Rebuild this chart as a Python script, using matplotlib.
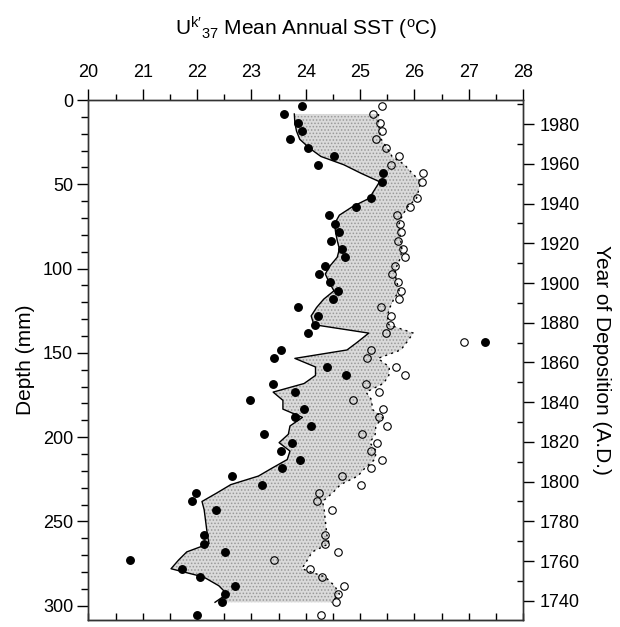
import matplotlib
matplotlib.use("Agg")
import matplotlib.pyplot as plt
from matplotlib.ticker import MultipleLocator, NullFormatter

plt.rcParams['font.family'] = ['Liberation Sans', 'DejaVu Sans']
plt.rcParams['mathtext.fontset'] = 'custom'
plt.rcParams['mathtext.rm'] = 'Liberation Sans'
plt.rcParams['mathtext.it'] = 'Liberation Sans:italic'
plt.rcParams['hatch.linewidth'] = 0.7

# sample depths (mm)
depth = [3.4, 8.3, 13.5, 18.4, 23.3, 28.6, 33.5, 38.4, 43.5, 48.5,
         58.3, 63.3, 68.3, 73.5, 78.4, 83.4, 88.4, 93.3, 98.3, 103.2, 108.1,
         113.2, 118.2, 123.1, 128.1, 133.3, 138.3, 143.7, 148.3, 153.3, 158.4,
         163.4, 168.2, 173.3, 178.2, 183.4, 188.3, 193.4, 198.3, 203.3, 208.3,
         213.3, 218.4, 223.1, 228.2, 233.2, 238.2, 243.1, 258.2, 263.2, 268.1,
         272.9, 278.1, 283.0, 288.2, 293.1, 298.0, 305.7]

# filled symbols
sst_filled = [23.93, 23.60, 23.85, 23.93, 23.71, 24.05, 24.52, 24.23, 25.43, 25.41,
              25.20, 24.93, 24.42, 24.54, 24.61, 24.47, 24.66, 24.73, 24.36, 24.25, 24.45,
              24.60, 24.50, 23.86, 24.22, 24.18, 24.04, 27.31, 23.55, 23.41, 24.40,
              24.74, 23.39, 23.81, 22.97, 23.96, 23.81, 24.09, 23.23, 23.74, 23.54,
              23.89, 23.56, 22.65, 23.19, 21.98, 21.90, 22.35, 22.13, 22.13, 22.51,
              20.76, 21.72, 22.06, 22.70, 22.51, 22.46, 22.00]

# open symbols
sst_open = [25.41, 25.23, 25.37, 25.41, 25.29, 25.48, 25.72, 25.57, 26.16, 26.15,
            26.05, 25.92, 25.68, 25.73, 25.76, 25.70, 25.79, 25.82, 25.65, 25.58, 25.69,
            25.76, 25.71, 25.38, 25.57, 25.55, 25.47, 26.92, 25.20, 25.13, 25.66,
            25.83, 25.11, 25.35, 24.87, 25.43, 25.35, 25.49, 25.03, 25.31, 25.20,
            25.40, 25.21, 24.67, 25.01, 24.25, 24.20, 24.48, 24.35, 24.35, 24.59,
            23.42, 24.07, 24.30, 24.71, 24.59, 24.55, 24.28]

# smoothed curves (solid / dotted), at depth[1:-1]
solid_line = [23.79, 23.80, 23.83, 23.89, 24.07, 24.28, 24.70, 25.02, 25.36,
              25.17, 24.86, 24.62, 24.53, 24.55, 24.58, 24.62, 24.58, 24.45, 24.36, 24.43,
              24.52, 24.33, 24.20, 24.10, 24.15, 25.16, 24.95, 24.76, 23.80, 24.18,
              24.18, 23.97, 23.40, 23.58, 23.58, 23.94, 23.71, 23.68, 23.51, 23.71,
              23.66, 23.38, 23.13, 22.62, 22.36, 22.09, 22.13, 22.19, 22.22, 21.81,
              21.66, 21.52, 22.12, 22.40, 22.55, 22.33]
dotted_line = [25.34, 25.34, 25.36, 25.39, 25.50, 25.59, 25.82, 25.96, 26.12,
               26.04, 25.88, 25.78, 25.72, 25.73, 25.75, 25.77, 25.75, 25.68, 25.64, 25.68,
               25.72, 25.62, 25.55, 25.50, 25.53, 25.98, 25.86, 25.75, 25.33, 25.54,
               25.53, 25.43, 25.11, 25.22, 25.22, 25.42, 25.29, 25.28, 25.18, 25.30,
               25.27, 25.09, 24.96, 24.64, 24.49, 24.31, 24.34, 24.39, 24.43, 24.12,
               24.03, 23.93, 24.36, 24.53, 24.62, 24.47]

line_depth = depth[1:-1]

fig = plt.figure(figsize=(6.2, 6.27), dpi=100)
ax = fig.add_axes([0.1427, 0.0112, 0.7008, 0.8293])

ax.fill_betweenx(line_depth, solid_line, dotted_line, facecolor='#dadada',
                 edgecolor='#999999', hatch='.....', linewidth=0, zorder=1)
ax.plot(solid_line, line_depth, 'k-', lw=1.0, zorder=2)
ax.plot(dotted_line, line_depth, 'k', ls=(0, (1.5, 3)), lw=1.0, zorder=2)
ax.plot(sst_open, depth, 'o', ms=5.4, mfc='none', mec='k', mew=0.8, zorder=3)
ax.plot(sst_filled, depth, 'o', ms=5.4, mfc='k', mec='k', zorder=3)

ax.set_xlim(20, 28)
ax.set_ylim(308.5, 0)

# top axis with labels, bottom only small inward ticks
ax.xaxis.set_ticks_position('both')
ax.xaxis.set_label_position('top')
ax.xaxis.set_major_locator(MultipleLocator(1))
ax.xaxis.set_minor_locator(MultipleLocator(0.5))
ax.tick_params(axis='x', which='major', top=True, labeltop=True, bottom=False,
               labelbottom=False, direction='out', length=8, width=1, labelsize=13, pad=6)
ax.tick_params(axis='x', which='minor', top=True, bottom=False, direction='out',
               length=4, width=1)
ax.set_xlabel(r'U$^{\mathrm{k}\prime}{}_{37}$ Mean Annual SST ($^{\mathrm{o}}$C)',
              fontsize=15, labelpad=20)

bot = ax.secondary_xaxis('bottom')
bot.set_xticks([20 + 0.5 * i for i in range(17)])
bot.xaxis.set_major_formatter(NullFormatter())
bot.tick_params(direction='in', length=5, width=1)

ax.yaxis.set_major_locator(MultipleLocator(50))
ax.yaxis.set_minor_locator(MultipleLocator(10))
ax.tick_params(axis='y', which='major', direction='out', length=8, width=1,
               labelsize=13, pad=3)
ax.tick_params(axis='y', which='minor', direction='out', length=5, width=1)
ax.set_ylabel('Depth (mm)', fontsize=15, labelpad=6)

ax2 = ax.twinx()
ax2.set_ylim(1730.3, 1992.2)
ax2.yaxis.set_major_locator(MultipleLocator(20))
ax2.yaxis.set_minor_locator(MultipleLocator(10))
ax2.tick_params(axis='y', which='major', direction='out', length=8, width=1,
                labelsize=13, pad=4)
ax2.tick_params(axis='y', which='minor', direction='in', length=4, width=1)
ax2.set_ylabel('Year of Deposition (A.D.)', fontsize=15, rotation=270, labelpad=22)

for a in (ax, ax2):
    for s in a.spines.values():
        s.set_linewidth(1.0)
        s.set_color('#333333')

fig.savefig('out.png', dpi=100)
